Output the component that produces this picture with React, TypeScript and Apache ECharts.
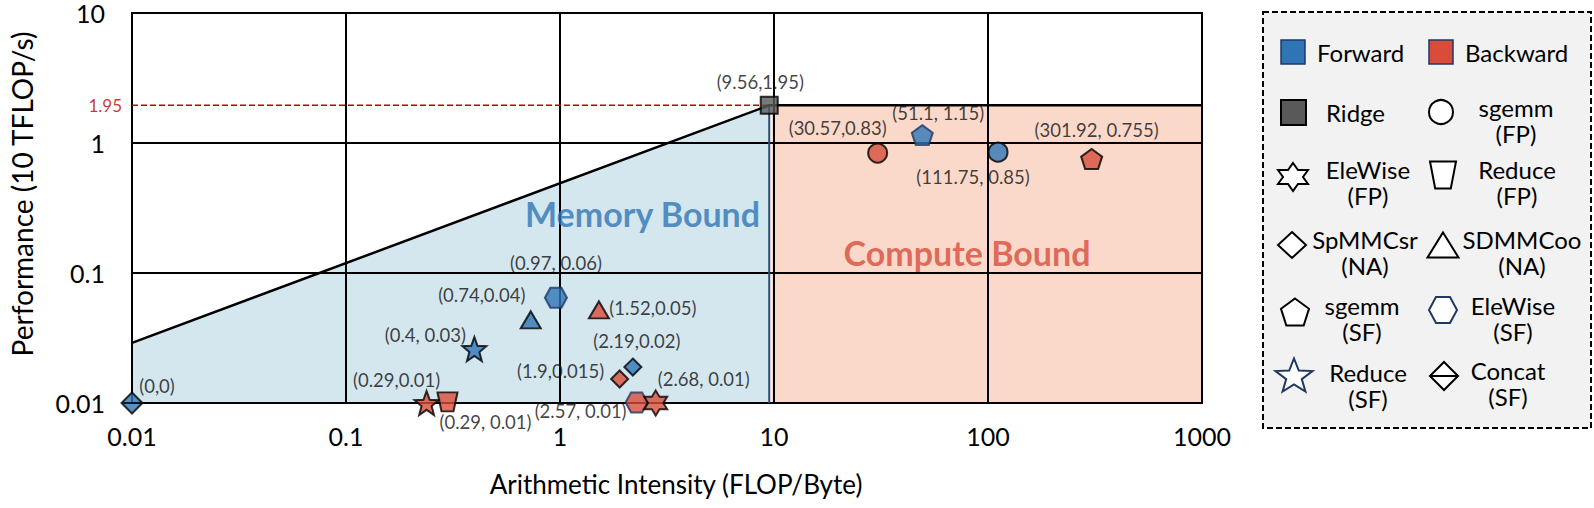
import React, { useEffect, useRef } from "react";
import * as echarts from "echarts";

// ---------- data ----------
const xTickLabels = ["0.01", "0.1", "1", "10", "100", "1000"];
const yTickLabels = ["0.01", "0.1", "1", "10"];

const pointKernels = [
  "Concat (SF)", "Reduce (SF)", "Reduce (FP)", "Reduce (SF)", "SDMMCoo (NA)",
  "EleWise (SF)", "SDMMCoo (NA)", "SpMMCsr (NA)", "SpMMCsr (NA)", "EleWise (SF)",
  "EleWise (FP)", "sgemm (FP)", "sgemm (SF)", "sgemm (FP)", "sgemm (SF)",
];
const pointPasses = [
  "Forward", "Backward", "Backward", "Forward", "Forward",
  "Forward", "Backward", "Forward", "Backward", "Backward",
  "Backward", "Backward", "Forward", "Forward", "Backward",
];
const pointX = [0.01, 0.238, 0.298, 0.398, 0.73, 0.957, 1.52, 2.19, 1.9, 2.28, 2.8, 30.5, 49.3, 111.4, 305];
const pointY = [0.01, 0.01, 0.0102, 0.026, 0.0436, 0.0645, 0.052, 0.0189, 0.0153, 0.0101, 0.01, 0.837, 1.15, 0.85, 0.753];
const pointLabels = [
  "(0,0)", "(0.29,0.01)", "(0.29, 0.01)", "(0.4, 0.03)", "(0.74,0.04)",
  "(0.97, 0.06)", "(1.52,0.05)", "(2.19,0.02)", "(1.9,0.015)", "(2.57, 0.01)",
  "(2.68, 0.01)", "(30.57,0.83)", "(51.1, 1.15)", "(111.75, 0.85)", "(301.92, 0.755)",
];

const ridgeX = 9.5;
const ridgeY = 1.95;
const ridgeLabel = "(9.56,1.95)";
const peakLabel = "1.95";
const roofStartX = 0.01;
const roofStartY = 0.029;
const roofEndX = 1000;
const floorY = 0.01;
const computeStartX = 9.75;
const memoryTextPos = [2.43, 0.285];
const computeTextPos = [79.8, 0.145];

// ---------- layout / style (not data) ----------
const labelOffsets = [
  [25, -17], [-30, -23], [38, 20], [-49, -14], [-49, -25],
  [0, -35], [54, -2], [4, -26], [-59, -8], [-56, 9],
  [48, -24], [-40, -25], [16, -22], [-25, 25], [5, -29],
];
const FONT = "Lato";
const BLUE = "#2e75b6";
const RED = "#d84c3a";
const NAVY = "#1f3864";
const MEM_FILL = "#d4e6ee";
const CMP_FILL = "#fbd9ca";

const hexPts = [[-1, 0], [-0.5, -0.87], [0.5, -0.87], [1, 0], [0.5, 0.87], [-0.5, 0.87]];
const pentPts = [0, 1, 2, 3, 4].map((k) => {
  const a = (-90 + k * 72) * Math.PI / 180;
  return [Math.cos(a), Math.sin(a)];
});
const starPts = (n: number, inner: number) => {
  const pts: number[][] = [];
  for (let k = 0; k < n * 2; k++) {
    const a = (-90 + k * (180 / n)) * Math.PI / 180;
    const r = k % 2 === 0 ? 1 : inner;
    pts.push([r * Math.cos(a), r * Math.sin(a)]);
  }
  return pts;
};
const star5Pts = starPts(5, 0.42);
const star6Pts = starPts(6, 0.577);
const trapPts = [[-1, -1], [1, -1], [0.6, 1], [-0.6, 1]];
const triPts = [[0, -1], [1, 1], [-1, 1]];
const diaPts = [[0, -1], [1, 0], [0, 1], [-1, 0]];

const toPath = (pts: number[][]) =>
  "path://M" + pts.map((p) => p[0].toFixed(3) + "," + p[1].toFixed(3)).join(" L") + " Z";

const kernelStyle: Record<string, any> = {
  "sgemm (FP)": { symbol: "circle", size: [19, 19], border: "#000" },
  "sgemm (SF)": { symbol: toPath(pentPts), size: [21, 20], border: "#000", borderF: NAVY },
  "EleWise (FP)": { symbol: toPath(star6Pts), size: [23, 25], border: "#000" },
  "Reduce (FP)": { symbol: toPath(trapPts), size: [20, 19], border: "#000" },
  "SpMMCsr (NA)": { symbol: "diamond", size: [17, 17], border: "#000" },
  "SDMMCoo (NA)": { symbol: "triangle", size: [20, 17], border: "#000" },
  "EleWise (SF)": { symbol: toPath(hexPts), size: [22, 20], border: NAVY },
  "Reduce (SF)": { symbol: toPath(star5Pts), size: [24, 24], border: "#000" },
  "Concat (SF)": { symbol: "path://M0,-1 L1,0 L0,1 L-1,0 Z M-1,0 L1,0", size: [21, 21], border: "#000" },
};

function legendGraphics(): any[] {
  const els: any[] = [];
  const txt = (text: string, x: number, y: number, align = "center") => ({
    type: "text",
    style: {
      text, x, y, fill: "#000", fontSize: 24, fontFamily: FONT,
      align, verticalAlign: "middle", lineHeight: 24,
    },
  });
  const txt2 = (l1: string, l2: string, x: number, y1: number) => {
    els.push(txt(l1, x, y1));
    els.push(txt(l2, x, y1 + 26));
  };
  const poly = (pts: number[][], cx: number, cy: number, w: number, h: number, fill: string, stroke: string, lw = 2) => {
    let minY = Infinity, maxY = -Infinity, minX = Infinity, maxX = -Infinity;
    pts.forEach((p) => { minX = Math.min(minX, p[0]); maxX = Math.max(maxX, p[0]); minY = Math.min(minY, p[1]); maxY = Math.max(maxY, p[1]); });
    const sx = w / (maxX - minX), sy = h / (maxY - minY);
    const ox = (minX + maxX) / 2, oy = (minY + maxY) / 2;
    return {
      type: "polygon",
      shape: { points: pts.map((p) => [cx + (p[0] - ox) * sx, cy + (p[1] - oy) * sy]) },
      style: { fill, stroke, lineWidth: lw, lineJoin: "miter" },
    };
  };
  els.push({
    type: "rect",
    shape: { x: 1263, y: 12, width: 328, height: 416 },
    style: { fill: "#f2f2f2", stroke: "#000", lineWidth: 2, lineDash: [6, 3] },
  });
  // row 1
  els.push({ type: "rect", shape: { x: 1281, y: 40, width: 24, height: 24 }, style: { fill: BLUE, stroke: NAVY, lineWidth: 1.5 } });
  els.push(txt("Forward", 1317, 52, "left"));
  els.push({ type: "rect", shape: { x: 1429, y: 40, width: 24, height: 24 }, style: { fill: RED, stroke: NAVY, lineWidth: 1.5 } });
  els.push(txt("Backward", 1465, 52, "left"));
  // row 2
  els.push({ type: "rect", shape: { x: 1281, y: 100, width: 25, height: 25 }, style: { fill: "#595959", stroke: "#000", lineWidth: 2 } });
  els.push(txt("Ridge", 1326, 112, "left"));
  els.push({ type: "circle", shape: { cx: 1441, cy: 112, r: 12 }, style: { fill: "#fff", stroke: "#000", lineWidth: 2 } });
  txt2("sgemm", "(FP)", 1516, 107);
  // row 3
  els.push(poly(star6Pts, 1293, 177, 30, 28, "#fff", "#000"));
  txt2("EleWise", "(FP)", 1368, 169);
  els.push(poly(trapPts, 1443, 175, 26, 27, "#fff", "#000"));
  txt2("Reduce", "(FP)", 1517, 169);
  // row 4
  els.push(poly(diaPts, 1292, 245, 28, 26, "#fff", "#000"));
  txt2("SpMMCsr", "(NA)", 1365, 239);
  els.push(poly(triPts, 1443, 245, 31, 25, "#fff", "#000"));
  txt2("SDMMCoo", "(NA)", 1522, 239);
  // row 5
  els.push(poly(pentPts, 1295, 312, 28, 27, "#fff", "#000"));
  txt2("sgemm", "(SF)", 1362, 305);
  els.push(poly(hexPts, 1443, 310, 28, 26, "#fff", NAVY));
  txt2("EleWise", "(SF)", 1513, 305);
  // row 6
  els.push(poly(star5Pts, 1294, 375, 37, 33, "#fff", NAVY));
  txt2("Reduce", "(SF)", 1368, 372);
  els.push(poly(diaPts, 1444, 376, 28, 28, "#fff", "#000"));
  els.push({ type: "line", shape: { x1: 1430, y1: 376, x2: 1458, y2: 376 }, style: { stroke: "#000", lineWidth: 2 } });
  txt2("Concat", "(SF)", 1508, 370);
  return els;
}

function buildOption(): any {
  const tickFmt = (labels: string[], start: number) => (v: number) => {
    const i = Math.round(Math.log10(v)) - start;
    return labels[i] ?? "";
  };

  const scatterData = pointX.map((x, i) => {
    const ks = kernelStyle[pointKernels[i]];
    const fwd = pointPasses[i] === "Forward";
    return {
      value: [x, pointY[i]],
      symbol: ks.symbol,
      symbolSize: ks.size,
      itemStyle: {
        color: fwd ? BLUE : RED,
        borderColor: fwd && ks.borderF ? ks.borderF : ks.border,
        borderWidth: 2,
      },
      label: {
        show: true,
        formatter: pointLabels[i],
        position: "inside",
        offset: labelOffsets[i],
        color: "#111",
        fontSize: 18.5,
        lineHeight: 18,
        fontFamily: FONT,
      },
    };
  });

  const memPoly = [[roofStartX, floorY], [roofStartX, roofStartY], [ridgeX, ridgeY], [ridgeX, floorY]];
  const cmpPoly = [[computeStartX, floorY], [computeStartX, ridgeY], [roofEndX, ridgeY], [roofEndX, floorY]];

  const regionSeries = (poly: number[][], fill: string, name: string) => ({
    type: "custom",
    name,
    z: -1,
    silent: true,
    data: [0],
    renderItem: (params: any, api: any) => ({
      type: "polygon",
      shape: { points: poly.map((p) => api.coord(p)) },
      style: { fill, stroke: "none" },
    }),
  });

  return {
    animation: false,
    backgroundColor: "#fff",
    textStyle: { fontFamily: FONT },
    grid: { left: 127, top: 13, width: 1075, height: 390, show: true, borderColor: "#000", borderWidth: 2, backgroundColor: "transparent", z: 0 },
    xAxis: {
      type: "log",
      logBase: 10,
      min: 0.01,
      max: 1000,
      name: "Arithmetic Intensity (FLOP/Byte)",
      nameLocation: "middle",
      nameGap: 68,
      nameTextStyle: { fontSize: 26, fontFamily: FONT, color: "#000", padding: [0, 0, 0, 18] },
      axisLine: { lineStyle: { color: "#000", width: 2 } },
      axisTick: { show: false },
      axisLabel: { formatter: tickFmt(xTickLabels, -2), fontSize: 25, lineHeight: 22, fontFamily: FONT, color: "#000", margin: 22 },
      splitLine: { show: true, lineStyle: { color: "#000", width: 2 } },
    },
    yAxis: {
      type: "log",
      logBase: 10,
      min: 0.01,
      max: 10,
      name: "Performance (10 TFLOP/s)",
      nameLocation: "middle",
      nameGap: 96,
      nameTextStyle: { fontSize: 28, fontFamily: FONT, color: "#000", padding: [0, 0, 0, 28] },
      axisLine: { lineStyle: { color: "#000", width: 2 } },
      axisTick: { show: false },
      axisLabel: { formatter: tickFmt(yTickLabels, -2), fontSize: 25, lineHeight: 22, fontFamily: FONT, color: "#000", margin: 27 },
      splitLine: { show: true, lineStyle: { color: "#000", width: 2 } },
    },
    graphic: legendGraphics(),
    series: [
      regionSeries(memPoly, MEM_FILL, "Memory region"),
      regionSeries(cmpPoly, CMP_FILL, "Compute region"),
      {
        type: "line",
        name: "Memory edge",
        data: [[ridgeX, floorY], [ridgeX, ridgeY]],
        symbol: "none",
        lineStyle: { color: "#2f4a72", width: 2 },
        silent: true,
        z: 1,
      },
      {
        type: "line",
        name: "Peak dashed",
        data: [[roofStartX, ridgeY], [ridgeX, ridgeY]],
        symbol: "none",
        lineStyle: { color: "#c00000", width: 1.5, type: [6, 3] },
        silent: true,
        z: 1,
      },
      {
        type: "line",
        name: "Roofline",
        data: [[roofStartX, roofStartY], [ridgeX, ridgeY], [roofEndX, ridgeY]],
        symbol: "none",
        lineStyle: { color: "#000", width: 2.5 },
        silent: true,
        z: 2,
      },
      {
        type: "scatter",
        name: "Text labels",
        symbolSize: 0,
        silent: true,
        data: [
          { value: memoryTextPos, label: { show: true, position: "inside", formatter: "Memory Bound", color: BLUE, fontSize: 34, fontWeight: "bold", fontFamily: FONT } },
          { value: computeTextPos, label: { show: true, position: "inside", formatter: "Compute Bound", color: RED, fontSize: 34, fontWeight: "bold", fontFamily: FONT } },
          { value: [roofStartX, ridgeY], label: { show: true, position: "left", distance: 10, formatter: peakLabel, color: "#c00000", fontSize: 17, fontFamily: FONT } },
        ],
        z: 3,
      },
      {
        type: "scatter",
        name: "Ridge",
        data: [{
          value: [ridgeX, ridgeY],
          label: { show: true, position: "inside", offset: [-9, -23], formatter: ridgeLabel, color: "#111", fontSize: 18.5, lineHeight: 18, fontFamily: FONT },
        }],
        symbol: "rect",
        symbolSize: 17,
        itemStyle: { color: "#595959", borderColor: "#000", borderWidth: 2 },
        z: 5,
      },
      {
        type: "scatter",
        name: "Kernels",
        data: scatterData,
        z: 5,
      },
    ],
  };
}

export default function App() {
  const ref = useRef<HTMLDivElement>(null);
  useEffect(() => {
    if (!ref.current) return;
    const chart = echarts.init(ref.current, undefined, { renderer: "svg" });
    chart.setOption(buildOption());
    return () => chart.dispose();
  }, []);
  return (
    <div
      ref={ref}
      style={{ position: "fixed", left: 0, top: 0, width: 1594, height: 508, background: "#fff" }}
    />
  );
}
